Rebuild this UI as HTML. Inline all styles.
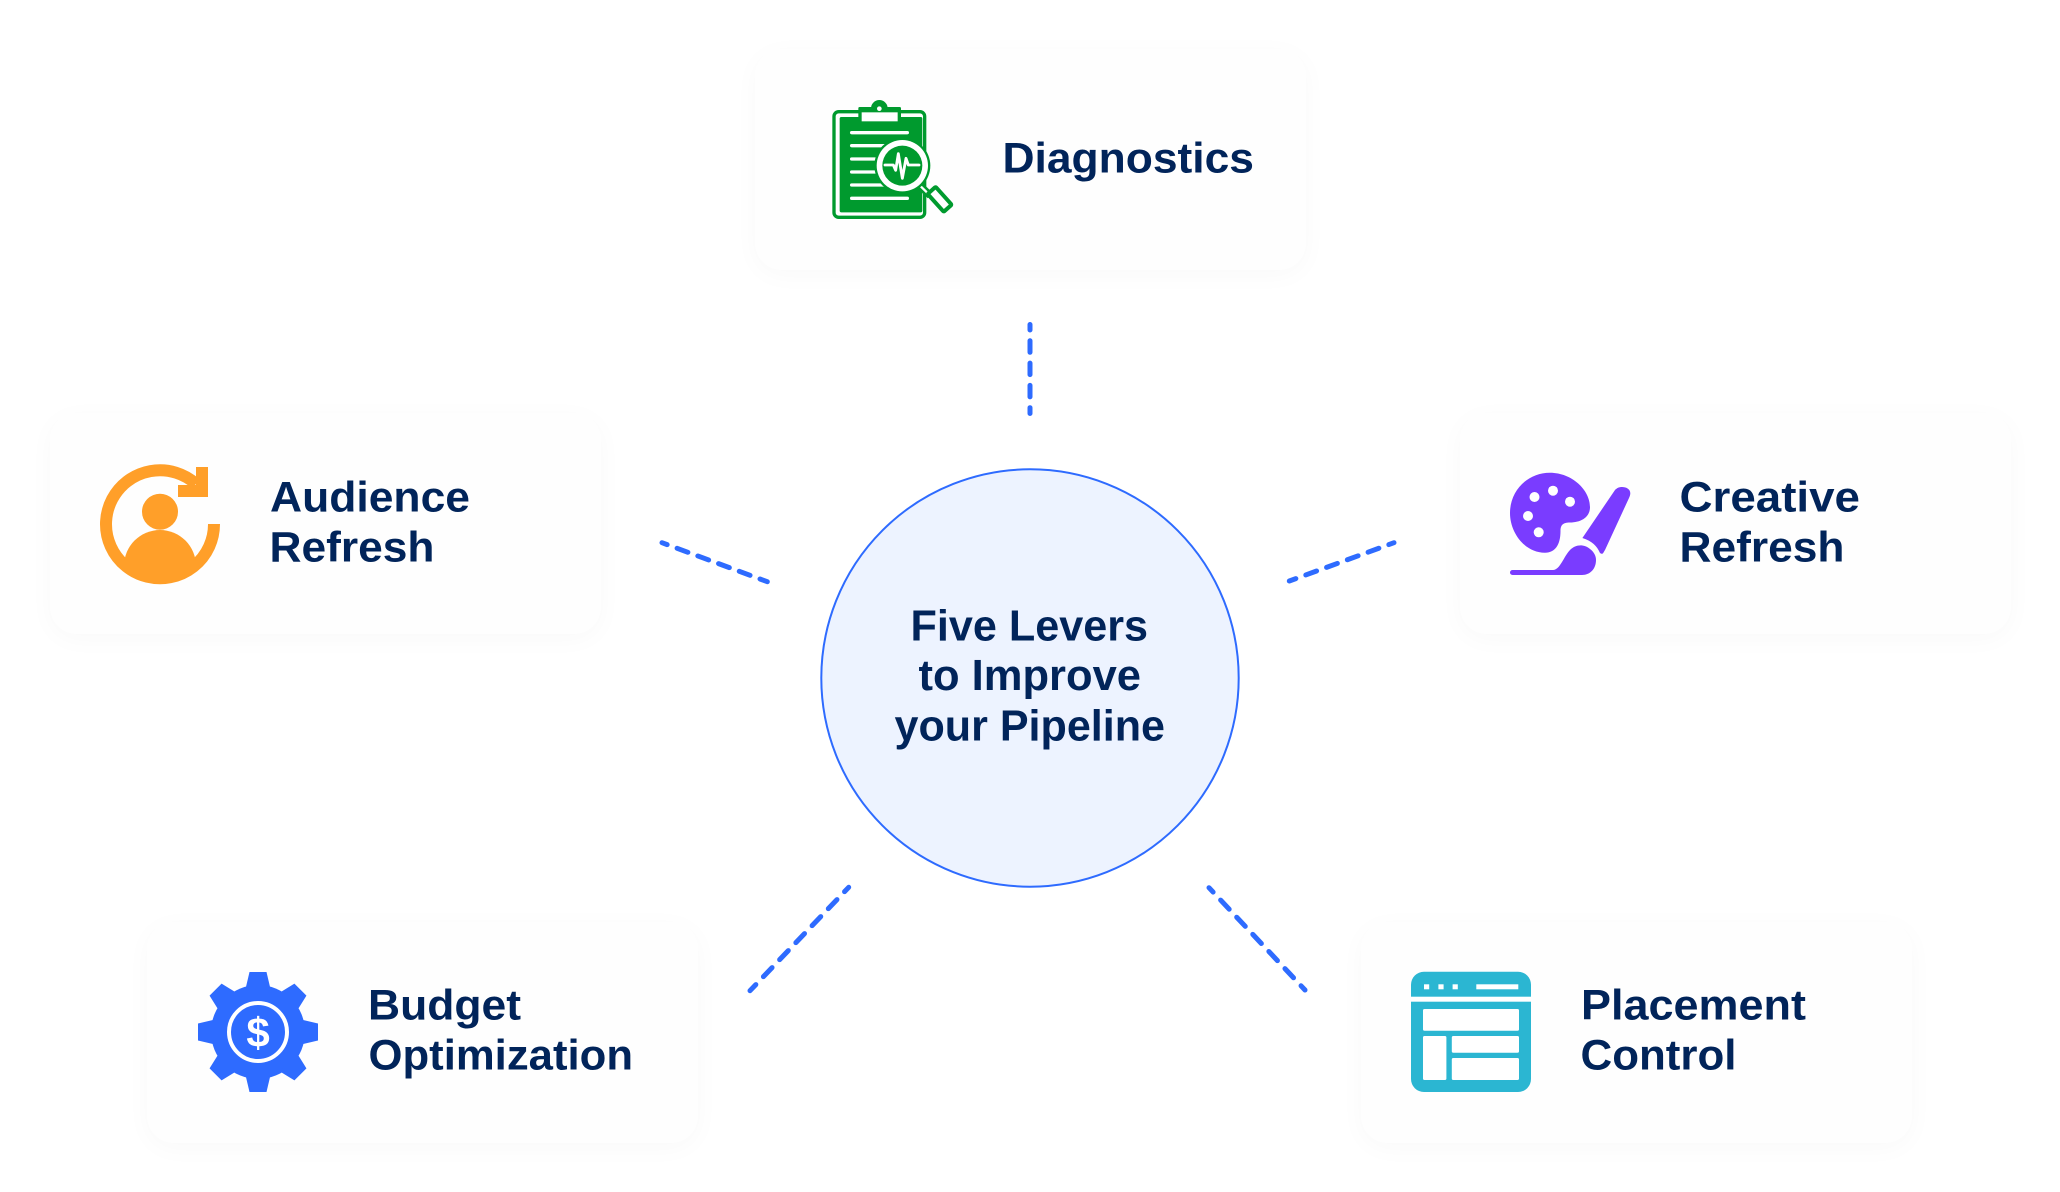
<!DOCTYPE html>
<html lang="en">
<head>
<meta charset="utf-8">
<title>Five Levers to Improve your Pipeline</title>
<style>
html,body{margin:0;padding:0;background:#fff;width:2060px;height:1192px;overflow:hidden}
.card{position:absolute;width:551px;height:221px;border-radius:27px;background:#fefefe;box-shadow:0 5px 26px rgba(0,0,0,.028)}
svg{position:absolute;left:0;top:0}
text{font-family:"Liberation Sans",sans-serif;font-weight:700;fill:#01245a}
.d{fill:none;stroke:#2e6bff;stroke-width:5;stroke-linecap:round}
</style>
</head>
<body>
<div class="card" style="left:755px;top:49px"></div>
<div class="card" style="left:50px;top:413px"></div>
<div class="card" style="left:1460px;top:413px"></div>
<div class="card" style="left:147px;top:922px"></div>
<div class="card" style="left:1361px;top:922px"></div>

<svg width="2060" height="1192" viewBox="0 0 2060 1192" xmlns="http://www.w3.org/2000/svg">
  <defs>
    <clipPath id="aud"><circle cx="160" cy="523.5" r="60"/></clipPath>
  </defs>

  <!-- connectors -->
  <line class="d" x1="1030" y1="324.5" x2="1030" y2="413.5" stroke-dasharray="11.5 10.8" stroke-dashoffset="6"/>
  <line class="d" x1="662" y1="542.7" x2="767.3" y2="581.7" stroke-dasharray="11.5 10.6" stroke-dashoffset="6"/>
  <line class="d" x1="1394" y1="542.7" x2="1289.3" y2="581" stroke-dasharray="11.5 10.6" stroke-dashoffset="6"/>
  <line class="d" x1="848.7" y1="887.3" x2="750" y2="990.7" stroke-dasharray="12.5 11" stroke-dashoffset="6.5"/>
  <line class="d" x1="1209" y1="887.7" x2="1305" y2="990" stroke-dasharray="12.5 11" stroke-dashoffset="6.5"/>

  <!-- center -->
  <circle cx="1030" cy="678" r="208.7" fill="#edf3ff" stroke="#2e6bff" stroke-width="2"/>
  <text x="910.5" y="640.5" font-size="44" textLength="237.5" lengthAdjust="spacingAndGlyphs">Five Levers</text>
  <text x="918.5" y="690.2" font-size="44" textLength="222.5" lengthAdjust="spacingAndGlyphs">to Improve</text>
  <text x="894.5" y="740.5" font-size="44" textLength="270.5" lengthAdjust="spacingAndGlyphs">your Pipeline</text>

  <!-- labels -->
  <text x="1002.5" y="172.5" font-size="43" textLength="251.5" lengthAdjust="spacingAndGlyphs">Diagnostics</text>
  <text x="270" y="511.5" font-size="43" textLength="200" lengthAdjust="spacingAndGlyphs">Audience</text>
  <text x="269.5" y="561.5" font-size="43" textLength="165" lengthAdjust="spacingAndGlyphs">Refresh</text>
  <text x="1679.5" y="511.5" font-size="43" textLength="180.5" lengthAdjust="spacingAndGlyphs">Creative</text>
  <text x="1679.5" y="561.5" font-size="43" textLength="165" lengthAdjust="spacingAndGlyphs">Refresh</text>
  <text x="368" y="1019.7" font-size="43" textLength="153" lengthAdjust="spacingAndGlyphs">Budget</text>
  <text x="368.5" y="1069.7" font-size="43" textLength="264.5" lengthAdjust="spacingAndGlyphs">Optimization</text>
  <text x="1581" y="1019.7" font-size="43" textLength="225" lengthAdjust="spacingAndGlyphs">Placement</text>
  <text x="1580.5" y="1069.7" font-size="43" textLength="156" lengthAdjust="spacingAndGlyphs">Control</text>

  <!-- diagnostics icon -->
  <g transform="translate(825 95) scale(.33333)">
    <rect x="27" y="50" width="272" height="317" rx="14" fill="#fff" stroke="#009a2e" stroke-width="10"/>
    <rect x="44" y="66" width="248" height="286" rx="5" fill="#009a2e"/>
    <circle cx="163" cy="40" r="25" fill="#009a2e"/>
    <rect x="100" y="36" width="128" height="44" rx="4" fill="#009a2e"/>
    <rect x="110" y="52" width="108" height="27" fill="#fff"/>
    <circle cx="163" cy="41" r="7" fill="#fff"/>
    <g stroke="#fff" stroke-width="10" stroke-linecap="round">
      <line x1="80" y1="113" x2="247" y2="113"/>
      <line x1="80" y1="152" x2="190" y2="152"/>
      <line x1="80" y1="192" x2="190" y2="192"/>
      <line x1="80" y1="231" x2="190" y2="231"/>
      <line x1="80" y1="270" x2="190" y2="270"/>
      <line x1="80" y1="310" x2="247" y2="310"/>
    </g>
    <line x1="285" y1="272" x2="316" y2="302" stroke="#009a2e" stroke-width="22"/>
    <line x1="285" y1="272" x2="316" y2="302" stroke="#fff" stroke-width="7"/>
    <rect x="-36" y="-16" width="72" height="32" rx="3" transform="translate(344 313) rotate(48)" fill="#fff" stroke="#009a2e" stroke-width="12"/>
    <circle cx="232" cy="212" r="84" fill="#009a2e"/>
    <circle cx="232" cy="212" r="77" fill="#fff"/>
    <circle cx="232" cy="212" r="60" fill="#009a2e"/>
    <polyline points="180,210 205,210 212,226 220,176 232,250 243,190 250,210 282,210" fill="none" stroke="#fff" stroke-width="8.5" stroke-linejoin="round" stroke-linecap="round"/>
  </g>

  <!-- audience icon -->
  <g fill="#ff9f29">
    <path d="M214 524 A54 54 0 1 1 196 484" fill="none" stroke="#ff9f29" stroke-width="12"/>
    <path d="M196 467H208V497H178V485H196Z"/>
    <circle cx="160" cy="511.7" r="18"/>
    <g clip-path="url(#aud)">
      <circle cx="160" cy="566" r="36"/>
      <rect x="95" y="563" width="130" height="30"/>
    </g>
  </g>

  <!-- creative icon -->
  <g fill="#7a3cff">
    <path d="M1550 472.7C1572 472.7 1590 490 1590 507C1590 518 1580 522.5 1570 522.5C1563 522.5 1560.5 525 1560.5 531C1560.5 545 1555 552.7 1545 552.7C1525 552.7 1510 533 1510 513C1510 490 1528 472.7 1550 472.7Z"/>
    <path d="M1615 490L1582.4 538C1592 541 1597 546 1600 553C1603 555 1603 553 1605 550L1629 498C1633 490 1627 487 1622 487C1619 487 1617 488 1615 490Z"/>
    <path d="M1512.5 570H1553C1560 570 1564 556 1570 550C1576 544 1584 544 1590 549C1594 552 1596 556 1596 560C1596 569 1590 575 1582 575H1512.5A2.5 2.5 0 0 1 1512.5 570Z"/>
  </g>
  <g fill="#fff">
    <circle cx="1534.5" cy="497" r="5"/>
    <circle cx="1553" cy="490.7" r="5"/>
    <circle cx="1570" cy="501.7" r="5"/>
    <circle cx="1528" cy="516" r="5"/>
    <circle cx="1538.7" cy="532.3" r="5"/>
  </g>

  <!-- budget icon -->
  <g transform="translate(258 1032)" fill="#2e6bff">
    <circle r="47"/>
    <path d="M-12.5-43L-8.5-60H8.5L12.5-43Z"/>
    <path transform="rotate(45)" d="M-12.5-43L-8.5-60H8.5L12.5-43Z"/>
    <path transform="rotate(90)" d="M-12.5-43L-8.5-60H8.5L12.5-43Z"/>
    <path transform="rotate(135)" d="M-12.5-43L-8.5-60H8.5L12.5-43Z"/>
    <path transform="rotate(180)" d="M-12.5-43L-8.5-60H8.5L12.5-43Z"/>
    <path transform="rotate(225)" d="M-12.5-43L-8.5-60H8.5L12.5-43Z"/>
    <path transform="rotate(270)" d="M-12.5-43L-8.5-60H8.5L12.5-43Z"/>
    <path transform="rotate(315)" d="M-12.5-43L-8.5-60H8.5L12.5-43Z"/>
    <circle r="29" fill="none" stroke="#fff" stroke-width="4"/>
  </g>
  <text x="258" y="1047" font-size="42" text-anchor="middle" style="font-weight:700;fill:#fff">$</text>

  <!-- placement icon -->
  <rect x="1411" y="971.7" width="120" height="120.3" rx="13" fill="#2bb6d2"/>
  <g fill="#fff">
    <rect x="1411" y="996.7" width="120" height="5"/>
    <rect x="1424" y="984.3" width="5.2" height="5"/>
    <rect x="1438.4" y="984.3" width="5.2" height="5"/>
    <rect x="1452.6" y="984.3" width="5.2" height="5"/>
    <rect x="1476.3" y="984.3" width="42" height="5"/>
    <rect x="1423" y="1009" width="96" height="21.7" rx="1.5"/>
    <rect x="1423" y="1036" width="23.4" height="44" rx="1.5"/>
    <rect x="1451.8" y="1036" width="67.2" height="16.7" rx="1.5"/>
    <rect x="1451.8" y="1058" width="67.2" height="22" rx="1.5"/>
  </g>
</svg>
</body>
</html>
